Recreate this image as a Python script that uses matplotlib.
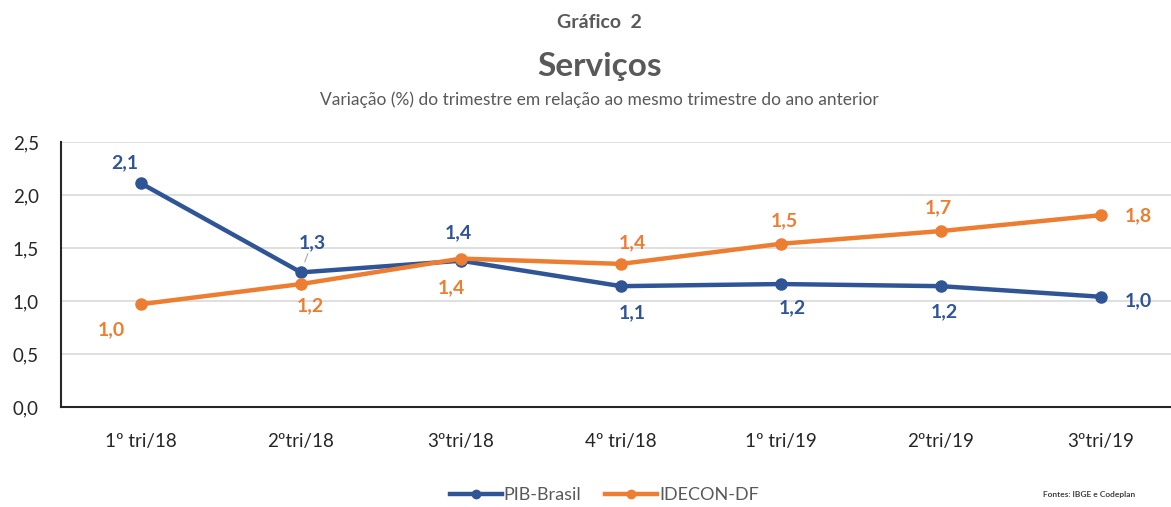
import matplotlib as mpl
mpl.use('Agg')
import matplotlib.pyplot as plt
import numpy as np

plt.rcParams['font.family'] = ['Lato', 'DejaVu Sans']

categories = ['1º tri/18', '2ºtri/18', '3ºtri/18', '4º tri/18', '1º tri/19', '2ºtri/19', '3ºtri/19']
pib_brasil = [2.11, 1.27, 1.38, 1.14, 1.16, 1.14, 1.04]
idecon_df = [0.97, 1.16, 1.40, 1.35, 1.54, 1.66, 1.81]
pib_labels = ['2,1', '1,3', '1,4', '1,1', '1,2', '1,2', '1,0']
idecon_labels = ['1,0', '1,2', '1,4', '1,4', '1,5', '1,7', '1,8']
yticks = [0.0, 0.5, 1.0, 1.5, 2.0, 2.5]

# label offsets in pixels (dx, dy)
pib_off = [(-16, 21), (11, 30), (-3, 28), (11, -27), (11, -24), (3, -26), (37, -4)]
idecon_off = [(-30, -26), (9, -22), (-10, -29), (11, 21), (3, 23), (-3, 23), (37, -1)]

blue = '#2F5597'
orange = '#ED7D31'
gray = '#595959'

fig = plt.figure(figsize=(11.71, 5.07), dpi=100)
ax = fig.add_axes([61 / 1171, 100 / 507, 1120 / 1171, 265 / 507])

x = np.arange(len(categories))
ax.plot(x, pib_brasil, color=blue, lw=3.2, marker='o', ms=8, label='PIB-Brasil', zorder=3)
ax.plot(x, idecon_df, color=orange, lw=3.2, marker='o', ms=8, label='IDECON-DF', zorder=4)

px = 0.72  # pixels to points at dpi 100
for i in range(len(x)):
    dx, dy = pib_off[i]
    kw = {}
    if i == 1:
        kw['arrowprops'] = dict(arrowstyle='-', color='#A6A6A6', lw=0.8, shrinkA=0, shrinkB=8)
    ax.annotate(pib_labels[i], (x[i], pib_brasil[i]), xytext=(dx * px, dy * px),
                textcoords='offset points', ha='center', va='center',
                color=blue, fontsize=14, fontweight='bold', **kw)
    dx, dy = idecon_off[i]
    ax.annotate(idecon_labels[i], (x[i], idecon_df[i]), xytext=(dx * px, dy * px),
                textcoords='offset points', ha='center', va='center',
                color=orange, fontsize=14, fontweight='bold')

ax.set_xlim(-0.5, len(categories) - 0.5)
ax.set_ylim(0, 2.5)
ax.set_yticks(yticks)
ax.set_yticklabels([f'{v:.1f}'.replace('.', ',') for v in yticks])
ax.set_xticks(x)
ax.set_xticklabels(categories)
ax.tick_params(axis='both', length=0, labelsize=13.5, colors='#262626')
ax.tick_params(axis='x', pad=19)
ax.tick_params(axis='y', pad=16)
ax.grid(axis='y', color='#D9D9D9', lw=1.2)
ax.set_axisbelow(True)
for s in ['top', 'right']:
    ax.spines[s].set_visible(False)
for s in ['left', 'bottom']:
    ax.spines[s].set_color('#262626')
    ax.spines[s].set_linewidth(1.5)

fig.text(0.512, 0.955, 'Gráfico  2', ha='center', va='center', fontsize=14, color=gray, fontweight='bold')
fig.text(0.512, 0.868, 'Serviços', ha='center', va='center', fontsize=24, color=gray, fontweight='bold')
fig.text(0.512, 0.803, 'Variação (%) do trimestre em relação ao mesmo trimestre do ano anterior',
         ha='center', va='center', fontsize=12.5, color=gray)

fig.legend(loc='center', bbox_to_anchor=(0.516, 0.024), ncol=2, frameon=False,
           fontsize=13, handlelength=2.9, columnspacing=1.3, handletextpad=0.1,
           labelcolor=gray, markerscale=0.75)
fig.text(0.891, 0.024, 'Fontes: IBGE e Codeplan', ha='left', va='center', fontsize=6,
         color='#404040', fontweight='bold')

fig.savefig('out.png', dpi=100)
